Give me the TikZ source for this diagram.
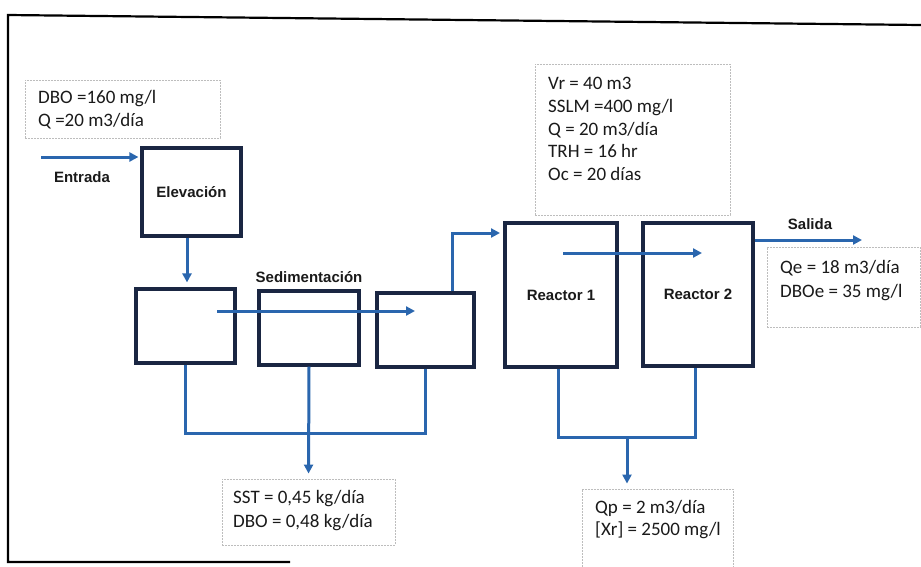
\documentclass[tikz,border=0pt]{standalone}
\usepackage{fontspec}
\setmainfont{Carlito}
\newfontfamily\lblfont{Liberation Sans}
\usetikzlibrary{arrows.meta}
\definecolor{navy}{HTML}{1A2642}
\definecolor{flowblue}{HTML}{2A66AE}
\definecolor{infogrey}{HTML}{BDBDBD}
\definecolor{inktext}{HTML}{1A1A1A}
\begin{document}
\begin{tikzpicture}[x=1pt,y=-1pt,
  unitbox/.style={draw=navy, line width=3.2pt, inner sep=0pt, text=inktext,
    font=\lblfont\bfseries\fontsize{15}{18}\selectfont},
  infobox/.style={draw=infogrey, line width=0.9pt, dash pattern=on 2pt off 1pt, inner sep=0pt},
  infotext/.style={anchor=west, align=left, inner sep=0pt, text=inktext,
    font=\fontsize{19}{23}\selectfont},
  lbl/.style={inner sep=0pt, text=inktext, font=\lblfont\bfseries\fontsize{15}{18}\selectfont},
  flow/.style={draw=flowblue, line width=3pt},
  flowarrow/.style={flow, -{Triangle[length=9pt,width=9pt]}}]
\useasboundingbox (0,0) rectangle (921,566);
\fill[white] (0,0) rectangle (921,566);

% outer frame
\draw[black, line width=2.2pt] (921,25) -- (8,15) -- (8,562) -- (290,562);

% info boxes
\node[infobox, minimum width=195pt, minimum height=58pt] (dboBox) at (122.5,109) {};
\node[infotext] (dboText) at (38,110) {DBO =160 mg/l\\Q =20 m3/día};

\node[infobox, minimum width=195pt, minimum height=151pt] (vrBox) at (632.5,139.5) {};
\node[infotext, font=\fontsize{19}{22.75}\selectfont] (vrText) at (548,129)
  {Vr = 40 m3\\SSLM =400 mg/l\\Q = 20 m3/día\\TRH = 16 hr\\Oc = 20 días};

\node[infobox, minimum width=153pt, minimum height=80pt] (qeBox) at (843.5,287) {};
\node[infotext, font=\fontsize{19}{24}\selectfont] (qeText) at (780,281)
  {Qe = 18 m3/día\\DBOe = 35 mg/l};

\node[infobox, minimum width=173pt, minimum height=66pt] (sstBox) at (308.5,512) {};
\node[infotext, font=\fontsize{19}{24}\selectfont] (sstText) at (233,511)
  {SST = 0,45 kg/día\\DBO = 0,48 kg/día};

\node[infobox, minimum width=151pt, minimum height=81pt] (qpBox) at (657.5,529.5) {};
\node[infotext, font=\fontsize{19}{22}\selectfont] (qpText) at (595,520)
  {Qp = 2 m3/día\\{[}Xr{]} = 2500 mg/l};

% process units
\node[unitbox, minimum width=99pt, minimum height=88pt] (elev) at (191.5,192) {Elevación};
\node[unitbox, minimum width=99pt, minimum height=74pt] (s1) at (185.5,326) {};
\node[unitbox, minimum width=100pt, minimum height=74pt] (s2) at (309,328) {};
\node[unitbox, minimum width=97pt, minimum height=74pt] (s3) at (425.5,330) {};
\node[unitbox, minimum width=112pt, minimum height=144pt] (r1) at (561,295) {Reactor 1};
\node[unitbox, minimum width=110pt, minimum height=143pt] (r2) at (698,294.5) {Reactor 2};

% labels
\node[lbl] (entrada) at (82,177) {Entrada};
\node[lbl] (sedim) at (309,277) {Sedimentación};
\node[lbl] (salida) at (810,224) {Salida};

% coordinates
\coordinate (inStart) at (41,157);
\coordinate (sedStart) at (217,311);
\coordinate (sedEnd) at (415,311);
\coordinate (sedCol) at (0,433);
\coordinate (upX) at (452,0);
\coordinate (r1In) at (500,233);
\coordinate (rStart) at (563,253);
\coordinate (rEnd) at (702,253);
\coordinate (outY) at (0,240);
\coordinate (outEnd) at (862,240);
\coordinate (rCol) at (0,437);
\coordinate (rMid) at (627,437);

% flows
\draw[flowarrow, shorten >=2pt] (inStart) -- (inStart -| elev.west) ;
\draw[flowarrow, shorten >=5pt] (elev.south -| 187,0) -- (s1.north -| 187,0);
\draw[flowarrow] (sedStart) -- (sedEnd);
\draw[flowarrow] (s3.north -| upX) |- (r1In);
\draw[flowarrow] (rStart) -- (rEnd);
\draw[flowarrow] (r2.east |- outY) -- (outEnd);

\draw[flow] (s1.south) -- (s1.south |- sedCol) -- (s3.south |- sedCol) -- (s3.south);
\draw[flowarrow, shorten >=5pt] (s2.south) -- (sstBox.north);

\draw[flow] (r1.south -| 558,0) -- (558,437) -- (695,437) -- (r2.south -| 695,0);
\draw[flowarrow, shorten >=5pt] (rMid) -- (rMid |- qpBox.north);
\end{tikzpicture}
\end{document}
